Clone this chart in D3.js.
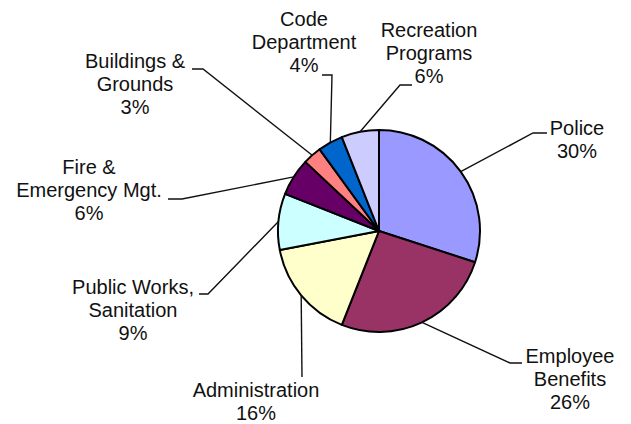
<!DOCTYPE html>
<html>
<head>
<meta charset="utf-8">
<script src="https://cdn.jsdelivr.net/npm/d3@7"></script>
<style>
  html, body { margin: 0; padding: 0; background: #fff; }
  svg { display: block; }
  .lbl { font-family: "Liberation Sans", Arial, sans-serif; font-size: 20px; fill: #111; }
</style>
</head>
<body>
<svg id="pie" width="631" height="424"></svg>
<script>
// data
const categories = ["Police", "Employee Benefits", "Administration", "Public Works, Sanitation",
    "Fire & Emergency Mgt.", "Buildings & Grounds", "Code Department", "Recreation Programs"];
const values = [30, 26, 16, 9, 6, 3, 4, 6];
// how each label wraps
const labelLines = [
    ["Police"], ["Employee", "Benefits"], ["Administration"], ["Public Works,", "Sanitation"],
    ["Fire &", "Emergency Mgt."], ["Buildings &", "Grounds"], ["Code", "Department"], ["Recreation", "Programs"]
];

// styles / layout
const sliceColors = ["#9999ff", "#993366", "#ffffcc", "#ccffff", "#660066", "#ff8080", "#0066cc", "#ccccff"];
// label centre x, first baseline y, leader elbow and leader end (dragged by hand in the original)
const labelLayout = [
    { x: 577, y: 135, elbow: [533, 133], end: [547, 133] },
    { x: 570, y: 363, elbow: [510, 363], end: [522, 363] },
    { x: 256, y: 397, elbow: [302, 377], end: [302, 377] },
    { x: 133, y: 294, elbow: [208, 294], end: [199, 294] },
    { x: 89,  y: 174, elbow: [182, 199], end: [168, 199] },
    { x: 135, y: 68,  elbow: [203, 69],  end: [192, 69] },
    { x: 304, y: 26,  elbow: [332, 75],  end: [322, 75] },
    { x: 429, y: 37,  elbow: [400, 85],  end: [412, 85] }
];
const lineGap = 23;

const svg = d3.select("#pie");
const cx = 379, cy = 231, radius = 101;

const pie = d3.pie().sort(null).value(d => d.value);
const arcs = pie(categories.map((c, i) => ({ name: c, value: values[i], i: i })));

const arc = d3.arc().innerRadius(0).outerRadius(radius);
// zero width ring at the rim, used for the leader start
const rimArc = d3.arc().innerRadius(radius).outerRadius(radius);

const g = svg.append("g").attr("transform", `translate(${cx},${cy})`);

g.selectAll("path.slice")
    .data(arcs)
    .enter()
    .append("path")
    .attr("class", "slice")
    .attr("d", arc)
    .style("fill", d => sliceColors[d.data.i])
    .style("stroke", "#000")
    .style("stroke-width", 2)
    .style("stroke-linejoin", "round");

// leader lines
svg.selectAll("polyline.leader")
    .data(arcs)
    .enter()
    .append("polyline")
    .attr("class", "leader")
    .attr("points", d => {
        const p = rimArc.centroid(d);
        const l = labelLayout[d.data.i];
        return [[cx + p[0], cy + p[1]], l.elbow, l.end].map(q => q.join(",")).join(" ");
    })
    .style("fill", "none")
    .style("stroke", "#111")
    .style("stroke-width", 1.4);

// labels
const labels = svg.selectAll("text.lbl")
    .data(arcs)
    .enter()
    .append("text")
    .attr("class", "lbl")
    .attr("text-anchor", "middle");

labels.each(function (d) {
    const l = labelLayout[d.data.i];
    const lines = labelLines[d.data.i].concat([d.data.value + "%"]);
    d3.select(this).selectAll("tspan")
        .data(lines)
        .enter()
        .append("tspan")
        .attr("x", l.x)
        .attr("y", (t, k) => l.y + k * lineGap)
        .text(t => t);
});
</script>
</body>
</html>
